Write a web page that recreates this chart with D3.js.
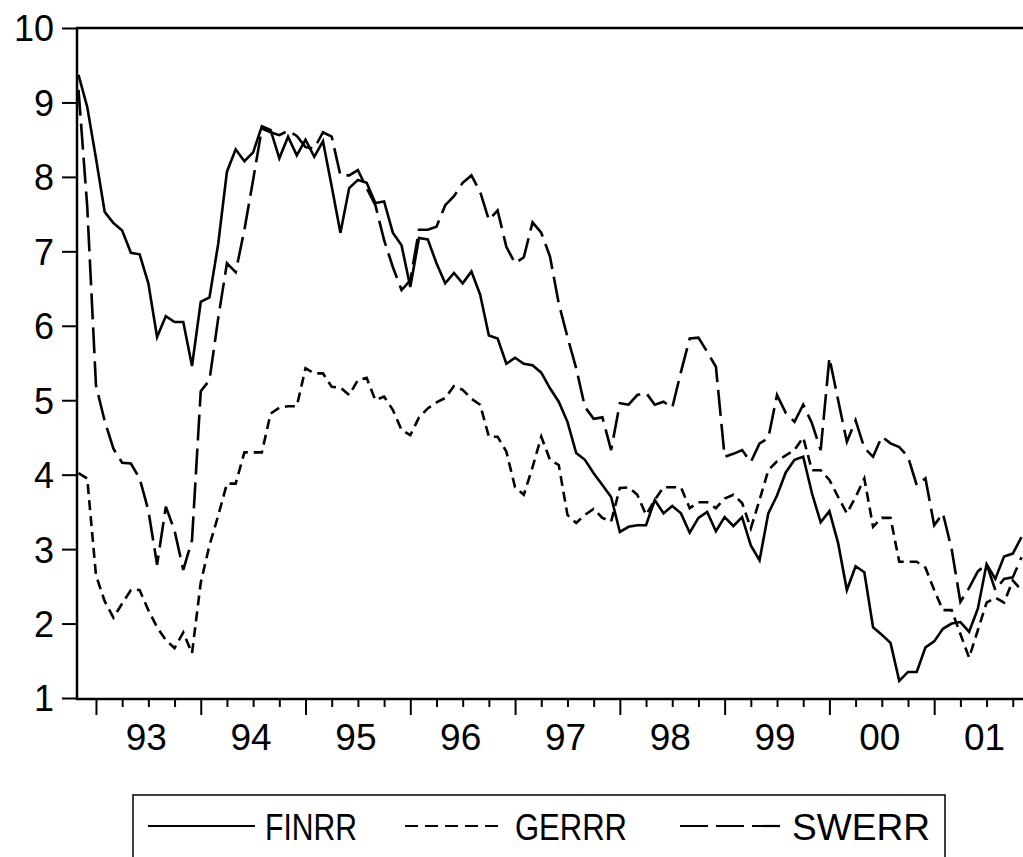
<!DOCTYPE html>
<html>
<head>
<meta charset="utf-8">
<script src="https://cdn.jsdelivr.net/npm/d3@7"></script>
<style>
  body { margin: 0; background: #fff; }
  svg { display: block; }
</style>
</head>
<body>
<div id="chart"></div>
<script>
// monthly observations, 1992M11 .. 2001M11
const startYear = 1992;
const startMonth = 11;

const yearLabels = ['93', '94', '95', '96', '97', '98', '99', '00', '01'];
const yTicks = [1, 2, 3, 4, 5, 6, 7, 8, 9, 10];

const finrr = [
  9.37, 8.94, 8.25, 7.53, 7.38, 7.28, 6.98, 6.96, 6.57, 5.85,
  6.13, 6.05, 6.05, 5.46, 6.32, 6.38, 7.10, 8.07, 8.37, 8.21,
  8.33, 8.68, 8.63, 8.25, 8.54, 8.29, 8.50, 8.27, 8.48, 7.87,
  7.25, 7.85, 7.96, 7.92, 7.65, 7.67, 7.25, 7.08, 6.52, 7.18,
  7.16, 6.84, 6.57, 6.71, 6.57, 6.73, 6.42, 5.87, 5.83, 5.49,
  5.57, 5.49, 5.47, 5.37, 5.16, 4.98, 4.71, 4.29, 4.20, 4.02,
  3.86, 3.70, 3.23, 3.30, 3.32, 3.32, 3.66, 3.48, 3.58, 3.48,
  3.22, 3.42, 3.50, 3.24, 3.43, 3.31, 3.43, 3.05, 2.85, 3.48,
  3.72, 4.03, 4.20, 4.24, 3.75, 3.36, 3.51, 3.08, 2.45, 2.77,
  2.69, 1.95, 1.85, 1.74, 1.23, 1.35, 1.35, 1.68, 1.76, 1.93,
  2.00, 2.02, 1.89, 2.20, 2.80, 2.60, 2.90, 2.94, 3.16
];

const gerrr = [
  4.02, 3.95, 2.65, 2.30, 2.08, 2.27, 2.45, 2.45, 2.18, 1.95,
  1.78, 1.67, 1.88, 1.60, 2.55, 3.05, 3.45, 3.88, 3.88, 4.30,
  4.30, 4.30, 4.82, 4.90, 4.92, 4.92, 5.43, 5.36, 5.36, 5.18,
  5.17, 5.07, 5.27, 5.30, 5.00, 5.05, 4.87, 4.60, 4.53, 4.77,
  4.89, 4.97, 5.03, 5.19, 5.14, 5.02, 4.94, 4.51, 4.51, 4.31,
  3.83, 3.73, 4.10, 4.51, 4.20, 4.13, 3.46, 3.35, 3.46, 3.54,
  3.42, 3.37, 3.82, 3.83, 3.73, 3.46, 3.66, 3.83, 3.83, 3.83,
  3.55, 3.63, 3.63, 3.55, 3.68, 3.73, 3.62, 3.28, 3.66, 4.06,
  4.18, 4.26, 4.33, 4.50, 4.06, 4.06, 3.93, 3.70, 3.48, 3.70,
  3.95, 3.30, 3.42, 3.42, 2.83, 2.83, 2.83, 2.75, 2.45, 2.18,
  2.18, 1.86, 1.54, 1.91, 2.28, 2.35, 2.28, 2.58, 2.45
];

const swerr = [
  9.17, 7.60, 5.20, 4.72, 4.35, 4.16, 4.15, 3.95, 3.52, 2.79,
  3.57, 3.25, 2.72, 3.12, 5.12, 5.27, 6.10, 6.84, 6.72, 7.29,
  7.96, 8.65, 8.60, 8.56, 8.62, 8.55, 8.40, 8.38, 8.60, 8.54,
  8.02, 8.02, 8.09, 7.85, 7.62, 7.15, 6.79, 6.48, 6.61, 7.29,
  7.29, 7.33, 7.62, 7.74, 7.92, 8.02, 7.80, 7.42, 7.55, 7.06,
  6.84, 6.92, 7.39, 7.25, 6.93, 6.30, 5.85, 5.43, 4.91, 4.75,
  4.77, 4.33, 4.96, 4.94, 5.07, 5.10, 4.94, 4.98, 4.90, 5.38,
  5.83, 5.84, 5.65, 5.45, 4.24, 4.28, 4.33, 4.17, 4.42, 4.49,
  5.07, 4.83, 4.71, 4.94, 4.69, 4.33, 5.57, 5.00, 4.44, 4.73,
  4.36, 4.24, 4.51, 4.42, 4.37, 4.24, 3.86, 3.95, 3.32, 3.48,
  3.00, 2.29, 2.48, 2.70, 2.80, 2.45, 2.60, 2.62, 2.89
];

const seriesNames = ['FINRR', 'GERRR', 'SWERR'];
const seriesData = [finrr, gerrr, swerr];

const width = 1023;
const height = 857;
const plotLeft = 77, plotTop = 28, plotBottom = 699, plotRight = 1023;

const dashes = ['none', '10,6', '26,8'];

const svg = d3.select('#chart')
  .append('svg')
  .attr('width', width)
  .attr('height', height)
  .attr('font-family', '"Liberation Sans", Arimo, Arial, sans-serif');

const n = finrr.length;
const x = d3.scaleLinear()
  .domain([0, n - 1])
  .range([78.5, 1021.5]);

const y = d3.scaleLinear()
  .domain([1, 10])
  .range([plotBottom - 1, plotTop]);

// month index of each January / quarter start
const idx = d3.range(n);
const monthOf = i => ((startMonth - 1 + i) % 12) + 1;
const quarterIdx = idx.filter(i => [1, 4, 7, 10].includes(monthOf(i)));
const janIdx = idx.filter(i => monthOf(i) == 1);

// y axis
const yAxis = svg.append('g')
  .attr('transform', `translate(${plotLeft},0)`)
  .call(d3.axisLeft(y).tickValues(yTicks).tickSize(15).tickPadding(8).tickFormat(d3.format('d')));
yAxis.select('.domain').remove();
yAxis.selectAll('line').attr('stroke', '#000').attr('stroke-width', 2);
yAxis.selectAll('text').attr('font-size', 36).attr('fill', '#000').attr('dy', '0.36em');

// x axis ticks (quarterly, longer at years)
const xAxis = svg.append('g')
  .attr('transform', `translate(0,${plotBottom})`)
  .call(d3.axisBottom(x).tickValues(quarterIdx).tickSize(8).tickFormat(''));
xAxis.select('.domain').remove();
xAxis.selectAll('line')
  .attr('stroke', '#000')
  .attr('stroke-width', 2)
  .attr('y2', d => monthOf(d) == 1 ? 16 : 8);

janIdx.forEach((j, k) => {
  svg.append('text')
    .attr('x', x(j + 6) - 2)
    .attr('y', 750)
    .attr('text-anchor', 'middle')
    .attr('font-size', 37)
    .text(yearLabels[k]);
});

// frame
svg.append('path')
  .attr('d', `M${plotRight},${plotTop}H${plotLeft}V${plotBottom}H${plotRight}`)
  .attr('fill', 'none')
  .attr('stroke', '#000')
  .attr('stroke-width', 2.5);

// series
const line = d3.line()
  .x((d, i) => x(i))
  .y(d => y(d));

seriesData.forEach((s, i) => {
  svg.append('path')
    .datum(s)
    .attr('d', line)
    .attr('fill', 'none')
    .attr('stroke', '#000')
    .attr('stroke-width', 2.6)
    .attr('stroke-dasharray', dashes[i])
    .attr('stroke-linejoin', 'miter');
});

// legend
const lg = svg.append('g');
lg.append('rect')
  .attr('x', 133)
  .attr('y', 795)
  .attr('width', 812)
  .attr('height', 100)
  .attr('fill', 'none')
  .attr('stroke', '#000')
  .attr('stroke-width', 1.5);

const legendPos = [
  { x1: 148, x2: 255, tx: 265, tw: 92 },
  { x1: 405, x2: 502, tx: 515, tw: 112 },
  { x1: 680, x2: 780, tx: 792, tw: 138 }
];
seriesNames.forEach((name, i) => {
  const p = legendPos[i];
  lg.append('line')
    .attr('x1', p.x1).attr('x2', p.x2)
    .attr('y1', 826).attr('y2', 826)
    .attr('stroke', '#000')
    .attr('stroke-width', 2.2)
    .attr('stroke-dasharray', i == 1 ? '13,7' : i == 2 ? '28,8' : 'none');
  lg.append('text')
    .attr('x', p.tx)
    .attr('y', 840)
    .attr('font-size', 37)
    .attr('textLength', p.tw)
    .attr('lengthAdjust', 'spacingAndGlyphs')
    .text(name);
});
</script>
</body>
</html>
